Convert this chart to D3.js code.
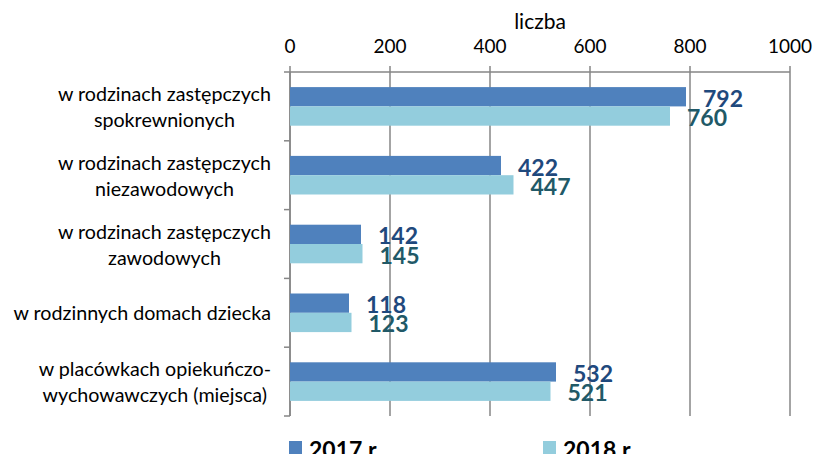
<!DOCTYPE html>
<html>
<head>
<meta charset="utf-8">
<script src="https://cdn.jsdelivr.net/npm/d3@7"></script>
<style>
  body { margin: 0; background: #fff; }
  svg { display: block; font-family: Lato, "Open Sans", sans-serif; }
</style>
</head>
<body>
<div id="chart"></div>
<script>
// Chart data
const categories = [
    ["w rodzinach zastępczych", "spokrewnionych"],
    ["w rodzinach zastępczych", "niezawodowych"],
    ["w rodzinach zastępczych", "zawodowych"],
    ["w rodzinnych domach dziecka"],
    ["w placówkach opiekuńczo-", "wychowawczych (miejsca)"]
];
const values2017 = [792, 422, 142, 118, 532];
const values2018 = [760, 447, 145, 123, 521];
const seriesNames = ["2017 r.", "2018 r."];
const xTicks = [0, 200, 400, 600, 800, 1000];

const width = 814;
const height = 454;
const margin = { top: 72, right: 24, bottom: 38, left: 290 };

const svg = d3.select('#chart')
    .append('svg')
    .attr('width', width)
    .attr('height', height);

const xScale = d3.scaleLinear()
    .domain([0, 1000])
    .range([margin.left, width - margin.right]);

const yScale = d3.scaleBand()
    .domain(d3.range(categories.length))
    .range([margin.top, height - margin.bottom]);

const barH = 19.3;
const gridColor = '#868686';

// Gridlines
svg.append('g')
    .selectAll('line')
    .data(xTicks)
    .join('line')
    .attr('x1', d => xScale(d))
    .attr('x2', d => xScale(d))
    .attr('y1', margin.top - 6)
    .attr('y2', height - margin.bottom)
    .attr('stroke', gridColor)
    .attr('stroke-width', 1.5);

// Top axis line
svg.append('line')
    .attr('x1', xScale(0)).attr('x2', xScale(1000))
    .attr('y1', margin.top).attr('y2', margin.top)
    .attr('stroke', gridColor).attr('stroke-width', 1.5);

// Left axis line with category ticks
svg.append('line')
    .attr('x1', xScale(0)).attr('x2', xScale(0))
    .attr('y1', margin.top).attr('y2', height - margin.bottom)
    .attr('stroke', gridColor).attr('stroke-width', 1.5);

svg.append('g')
    .selectAll('line')
    .data(d3.range(categories.length + 1))
    .join('line')
    .attr('x1', xScale(0) - 6)
    .attr('x2', xScale(0))
    .attr('y1', i => margin.top + i * yScale.bandwidth())
    .attr('y2', i => margin.top + i * yScale.bandwidth())
    .attr('stroke', gridColor)
    .attr('stroke-width', 1.5);

// Tick labels
svg.append('g')
    .selectAll('text')
    .data(xTicks)
    .join('text')
    .attr('x', d => xScale(d))
    .attr('y', 53)
    .attr('text-anchor', 'middle')
    .style('font-size', '19px')
    .style('fill', '#000')
    .text(d => d);

svg.append('text')
    .attr('x', 540)
    .attr('y', 29)
    .attr('text-anchor', 'middle')
    .style('font-size', '21px')
    .text('liczba');

// Bars + value labels
const bars = svg.append('g');
const series = [
    { vals: values2017, fill: '#4F81BD', label: '#1F497D', off: 0 },
    { vals: values2018, fill: '#93CDDD', label: '#215967', off: 1 }
];

series.forEach(s => {
    bars.selectAll(null)
        .data(s.vals)
        .join('rect')
        .attr('x', xScale(0))
        .attr('y', (d, i) => yScale(i) + yScale.bandwidth() / 2 - barH + s.off * barH)
        .attr('width', d => xScale(d) - xScale(0))
        .attr('height', barH)
        .attr('fill', s.fill);

    bars.selectAll(null)
        .data(s.vals)
        .join('text')
        .attr('x', d => xScale(d) + 17)
        .attr('y', (d, i) => yScale(i) + yScale.bandwidth() / 2 - barH / 2 + s.off * barH + 1)
        .attr('dominant-baseline', 'central')
        .style('font-size', '23px')
        .style('font-weight', 'bold')
        .style('fill', s.label)
        .text(d => d);
});

// Category labels: block right-aligned, lines centred inside it
const labelRight = 271;
categories.forEach((lines, i) => {
    const g = svg.append('g');
    const cy = yScale(i) + yScale.bandwidth() / 2;
    const lh = 26;
    const texts = lines.map((t, k) => g.append('text')
        .attr('y', cy + (k - (lines.length - 1) / 2) * lh)
        .attr('dominant-baseline', 'central')
        .attr('text-anchor', 'middle')
        .style('font-size', '19.7px')
        .style('fill', '#000')
        .text(t));
    const maxW = d3.max(texts, t => t.node().getComputedTextLength());
    texts.forEach(t => t.attr('x', labelRight - maxW / 2));
});

// Legend
const legendX = [289, 543];
seriesNames.forEach((name, i) => {
    svg.append('rect')
        .attr('x', legendX[i])
        .attr('y', 441)
        .attr('width', 13)
        .attr('height', 13)
        .attr('fill', series[i].fill);
    svg.append('text')
        .attr('x', legendX[i] + 20)
        .attr('y', 458)
        .style('font-size', '23px')
        .style('font-weight', 'bold')
        .style('fill', '#000')
        .text(name);
});
</script>
</body>
</html>
